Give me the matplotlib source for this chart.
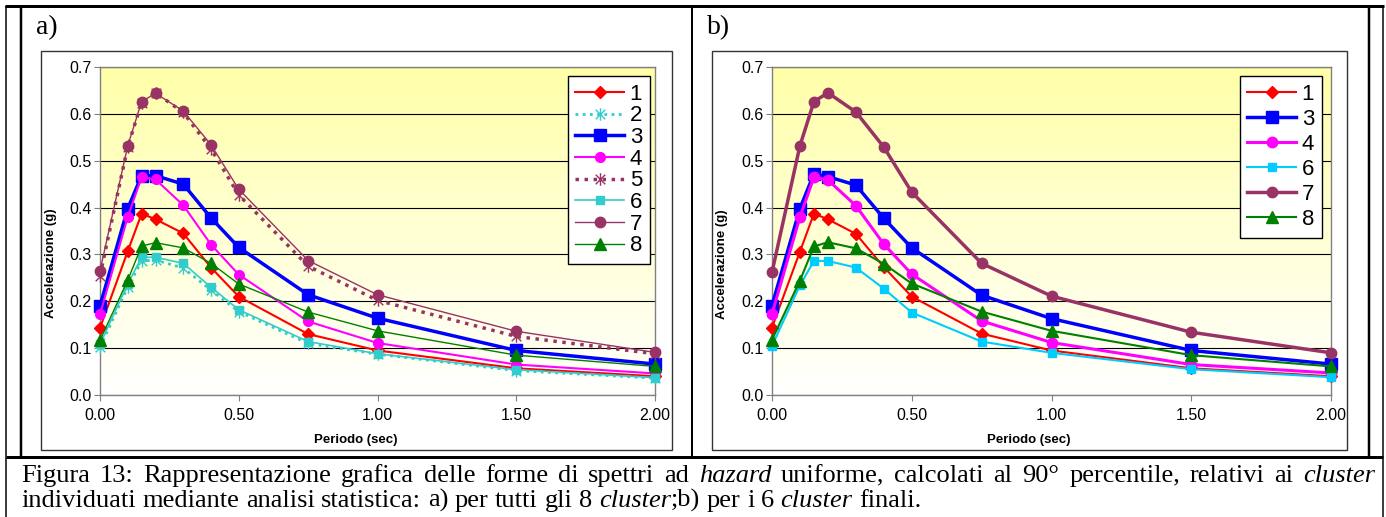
import matplotlib
matplotlib.use("Agg")
import matplotlib.pyplot as plt
import numpy as np
from matplotlib.colors import LinearSegmentedColormap
from matplotlib.lines import Line2D
from matplotlib.patches import Rectangle
from matplotlib.path import Path

# periods (sec) of the spectra
periods = [0.0, 0.1, 0.15, 0.2, 0.3, 0.4, 0.5, 0.75, 1.0, 1.5, 2.0]

# a) all 8 clusters
a_c1 = [0.143, 0.307, 0.387, 0.375, 0.345, 0.272, 0.210, 0.130, 0.095, 0.057, 0.040]
a_c2 = [0.102, 0.230, 0.286, 0.288, 0.271, 0.224, 0.178, 0.110, 0.087, 0.052, 0.036]
a_c3 = [0.190, 0.398, 0.468, 0.468, 0.450, 0.378, 0.315, 0.214, 0.164, 0.095, 0.066]
a_c4 = [0.172, 0.380, 0.465, 0.460, 0.405, 0.321, 0.257, 0.157, 0.111, 0.065, 0.046]
a_c5 = [0.255, 0.530, 0.624, 0.645, 0.603, 0.525, 0.427, 0.275, 0.202, 0.125, 0.088]
a_c6 = [0.108, 0.237, 0.294, 0.294, 0.281, 0.230, 0.182, 0.114, 0.088, 0.054, 0.037]
a_c7 = [0.265, 0.532, 0.626, 0.644, 0.606, 0.534, 0.439, 0.287, 0.214, 0.136, 0.091]
a_c8 = [0.117, 0.245, 0.318, 0.325, 0.314, 0.281, 0.237, 0.177, 0.137, 0.085, 0.061]

# b) the 6 final clusters
b_c1 = [0.144, 0.306, 0.387, 0.375, 0.344, 0.273, 0.210, 0.131, 0.095, 0.057, 0.040]
b_c3 = [0.191, 0.398, 0.472, 0.466, 0.448, 0.377, 0.314, 0.213, 0.163, 0.095, 0.066]
b_c4 = [0.173, 0.380, 0.465, 0.459, 0.404, 0.322, 0.258, 0.158, 0.112, 0.065, 0.047]
b_c6 = [0.105, 0.234, 0.286, 0.286, 0.272, 0.227, 0.176, 0.114, 0.090, 0.055, 0.038]
b_c7 = [0.262, 0.532, 0.626, 0.645, 0.604, 0.529, 0.433, 0.281, 0.211, 0.134, 0.090]
b_c8 = [0.118, 0.244, 0.317, 0.326, 0.313, 0.280, 0.238, 0.178, 0.137, 0.085, 0.061]

a_series = [("1", a_c1), ("2", a_c2), ("3", a_c3), ("4", a_c4),
            ("5", a_c5), ("6", a_c6), ("7", a_c7), ("8", a_c8)]
b_series = [("1", b_c1), ("3", b_c3), ("4", b_c4),
            ("6", b_c6), ("7", b_c7), ("8", b_c8)]

caption1 = ("Figura 13: Rappresentazione grafica delle forme di spettri ad *hazard* "
            "uniforme, calcolati al 90° percentile, relativi ai *cluster*")
caption2 = ("individuati mediante analisi statistica: a) per tutti gli 8 *cluster*;b) "
            "per i 6 *cluster* finali.")

# Excel-like "star" marker: an X with a vertical bar
star = Path([(-1, -1), (1, 1), (-1, 1), (1, -1), (0, -1.3), (0, 1.3)],
            [Path.MOVETO, Path.LINETO, Path.MOVETO, Path.LINETO, Path.MOVETO, Path.LINETO])
dots = (0, (1.0, 1.6))

style_a = {
    "1": dict(color="#FF0000", lw=1.5, marker="D", ms=6),
    "2": dict(color="#33CCCC", lw=2.0, ls=dots, marker=star, ms=9, mew=1.0),
    "3": dict(color="#0000FF", lw=2.5, marker="s", ms=8.5),
    "4": dict(color="#FF00FF", lw=1.5, marker="o", ms=7),
    "5": dict(color="#993366", lw=2.5, ls=dots, marker=star, ms=9, mew=1.0),
    "6": dict(color="#33CCCC", lw=1.2, marker="s", ms=6),
    "7": dict(color="#993366", lw=1.0, marker="o", ms=7.5),
    "8": dict(color="#008000", lw=1.0, marker="^", ms=8),
}
style_b = {
    "1": dict(color="#FF0000", lw=1.5, marker="D", ms=6),
    "3": dict(color="#0000FF", lw=2.5, marker="s", ms=8.5),
    "4": dict(color="#FF00FF", lw=2.2, marker="o", ms=7.5),
    "6": dict(color="#00CCFF", lw=1.5, marker="s", ms=6),
    "7": dict(color="#993366", lw=2.5, marker="o", ms=7.5),
    "8": dict(color="#008000", lw=1.5, marker="^", ms=8),
}

W, H = 1386, 517
plt.rcParams["font.family"] = ["Liberation Sans", "DejaVu Sans"]
fig = plt.figure(figsize=(W / 100, H / 100), dpi=100)


def fx(x):
    return x / W


def fy(y):
    return 1 - y / H


def rule(x0, y0, x1, y1, lw):
    fig.add_artist(Line2D([fx(x0), fx(x1)], [fy(y0), fy(y1)], color="black",
                          lw=lw * 0.72, transform=fig.transFigure, solid_capstyle="butt"))


yellow = LinearSegmentedColormap.from_list("xl", ["#FFFFFF", "#FFFFA8"])


def panel(series, styles, box, area, legend_tr, row_space, tag, tag_x, ylab_xy, xlab_xy):
    bx0, by0, bx1, by1 = box
    fig.add_artist(Rectangle((fx(bx0), fy(by1)), fx(bx1) - fx(bx0), fy(by0) - fy(by1),
                             transform=fig.transFigure, fill=False, ec="#333333", lw=1.0))
    x0, y0, x1, y1 = area
    ax = fig.add_axes([fx(x0), fy(y1), fx(x1) - fx(x0), fy(y0) - fy(y1)])
    ax.imshow(np.linspace(0, 1, 256).reshape(-1, 1), extent=[0, 2, 0, 0.7], origin="lower",
              aspect="auto", cmap=yellow, zorder=0, interpolation="bilinear")
    ax.set_xlim(0, 2)
    ax.set_ylim(0, 0.7)
    ax.set_xticks([0, 0.5, 1.0, 1.5, 2.0])
    ax.set_xticklabels([f"{v:.2f}" for v in [0, 0.5, 1.0, 1.5, 2.0]])
    ax.set_yticks(np.arange(0, 0.71, 0.1))
    ax.set_yticklabels([f"{v:.1f}" for v in np.arange(0, 0.71, 0.1)])
    ax.tick_params(axis="both", direction="out", length=4, width=0.8, color="#808080",
                   labelsize=11.5)
    ax.tick_params(axis="x", pad=5)
    ax.tick_params(axis="y", pad=2)
    ax.grid(axis="y", color="black", lw=0.8, zorder=1)
    for sp in ax.spines.values():
        sp.set_color("#808080")
        sp.set_linewidth(1.0)
    ax.set_axisbelow(True)

    handles = []
    for name, vals in series:
        st = dict(styles[name])
        ls = st.pop("ls", "-")
        ln, = ax.plot(periods, vals, ls=ls, mfc=st["color"], mec=st["color"],
                      clip_on=False, zorder=3, dash_capstyle="butt", **st)
        handles.append(ln)

    lx, ly = legend_tr
    leg = ax.legend(handles, [s[0] for s in series], loc="upper right",
                    bbox_to_anchor=(fx(lx), fy(ly)), bbox_transform=fig.transFigure,
                    fontsize=16, handlelength=2.2, handletextpad=0.25, borderpad=0.35,
                    labelspacing=row_space, borderaxespad=0, fancybox=False,
                    framealpha=1, edgecolor="black", numpoints=1)
    leg.get_frame().set_linewidth(1.0)

    fig.text(fx(tag_x), fy(28), tag, family="Liberation Serif", fontsize=20,
             ha="left", va="center")
    fig.text(fx(ylab_xy[0]), fy(ylab_xy[1]), "Accelerazione (g)", rotation=90,
             fontsize=9.5, fontweight="bold", ha="center", va="center")
    fig.text(fx(xlab_xy[0]), fy(xlab_xy[1]), "Periodo (sec)",
             fontsize=9.5, fontweight="bold", ha="center", va="center")
    return ax


panel(a_series, style_a, (41, 51, 672, 450), (100, 67, 655, 395), (650, 76), 0.03,
      "a)", 36, (51, 263), (356, 440))
panel(b_series, style_b, (712, 51, 1347, 450), (772, 67, 1331, 395), (1322, 76), 0.18,
      "b)", 707, (722, 264), (1029, 440))

# table borders around the figure
rule(5, 6, 1384, 6, 3)
rule(6, 6, 6, 517, 1.5)
rule(21, 6, 21, 457, 2.5)
rule(692, 6, 692, 457, 2)
rule(1369, 6, 1369, 457, 2.5)
rule(1383, 6, 1383, 517, 1.5)
rule(6, 457, 1383, 457, 3)

# caption, with italic words between asterisks and the first line justified
renderer = fig.canvas.get_renderer()
cap_size = 19


def caption_line(markup, x0, base_y, x1=None):
    words = []
    italic = False
    for raw in markup.split(" "):
        pieces = []
        for k, part in enumerate(raw.split("*")):
            if k > 0:
                italic = not italic
            if part:
                pieces.append((part, italic))
        words.append(pieces)
    items = []
    widths = []
    for pieces in words:
        w_total = 0
        objs = []
        for text, it in pieces:
            t = fig.text(0, fy(base_y), text, family="Liberation Serif", fontsize=cap_size,
                         style="italic" if it else "normal", ha="left", va="baseline")
            w = t.get_window_extent(renderer).width
            objs.append((t, w_total))
            w_total += w
        items.append(objs)
        widths.append(w_total)
    space = 0.25 * cap_size * 100 / 72
    if x1 is not None and len(words) > 1:
        space = (x1 - x0 - sum(widths)) / (len(words) - 1)
    x = x0
    for objs, w in zip(items, widths):
        for t, off in objs:
            t.set_x(fx(x + off))
        x += w + space


caption_line(caption1, 21, 482, 1375)
caption_line(caption2, 21, 507)

fig.savefig("out.png", dpi=100)
